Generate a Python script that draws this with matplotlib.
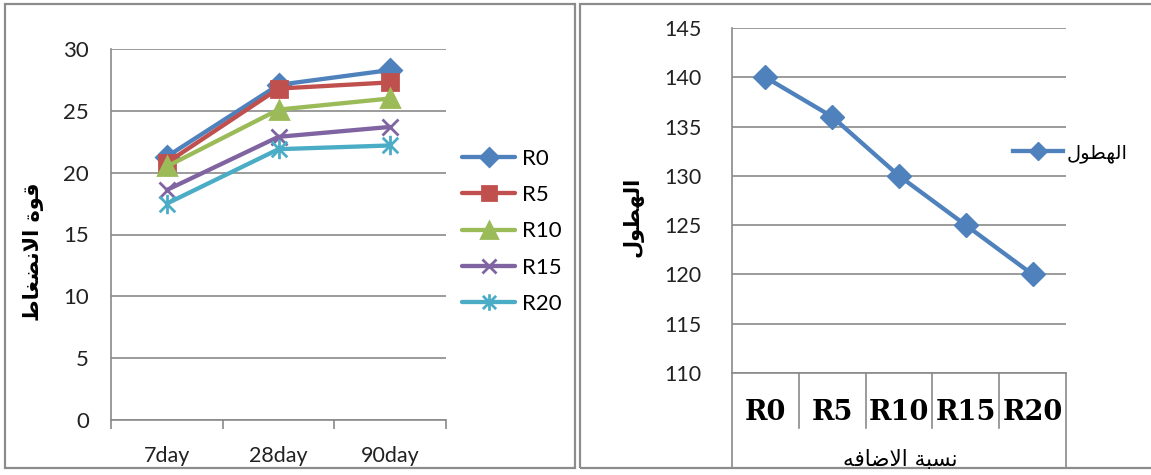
import matplotlib
matplotlib.use("Agg")
import matplotlib.pyplot as plt
from matplotlib.patches import Rectangle
from matplotlib.path import Path

# ---- data -------------------------------------------------------------
ages = ["7day", "28day", "90day"]
series_names = ["R0", "R5", "R10", "R15", "R20"]
r0 = [21.3, 27.1, 28.3]
r5 = [20.8, 26.8, 27.3]
r10 = [20.5, 25.1, 26.0]
r15 = [18.6, 22.9, 23.7]
r20 = [17.5, 21.9, 22.2]

mixes = ["R0", "R5", "R10", "R15", "R20"]
slump = [140, 136, 130, 125, 120]

strength_label = "قوة الانضغاط"
slump_label = "الهطول"
mix_label = "نسبة الاضافه"

# ---- simple Arabic shaping (presentation forms, visual order) --------
FORMS = {
    "ا": ("\uFE8D", "\uFE8E", None, None),
    "ب": ("\uFE8F", "\uFE90", "\uFE91", "\uFE92"),
    "ة": ("\uFE93", "\uFE94", None, None),
    "ل": ("\uFEDD", "\uFEDE", "\uFEDF", "\uFEE0"),
    "ن": ("\uFEE5", "\uFEE6", "\uFEE7", "\uFEE8"),
    "ه": ("\uFEE9", "\uFEEA", "\uFEEB", "\uFEEC"),
    "و": ("\uFEED", "\uFEEE", None, None),
    "ط": ("\uFEC1", "\uFEC2", "\uFEC3", "\uFEC4"),
    "ض": ("\uFEBD", "\uFEBE", "\uFEBF", "\uFEC0"),
    "غ": ("\uFECD", "\uFECE", "\uFECF", "\uFED0"),
    "ق": ("\uFED5", "\uFED6", "\uFED7", "\uFED8"),
    "س": ("\uFEB1", "\uFEB2", "\uFEB3", "\uFEB4"),
    "ف": ("\uFED1", "\uFED2", "\uFED3", "\uFED4"),
    "لا": ("\uFEFB", "\uFEFC", None, None),
}


def shape(text):
    toks = []
    i = 0
    while i < len(text):
        if text[i] == "ل" and i + 1 < len(text) and text[i + 1] == "ا":
            toks.append("لا")
            i += 2
        else:
            toks.append(text[i])
            i += 1
    out = []
    for k, t in enumerate(toks):
        if t not in FORMS:
            out.append(t)
            continue
        prev = toks[k - 1] if k > 0 else None
        nxt = toks[k + 1] if k + 1 < len(toks) else None
        jp = prev in FORMS and FORMS[prev][2] is not None
        jn = FORMS[t][2] is not None and nxt in FORMS
        idx = 3 if (jp and jn) else 1 if jp else 2 if jn else 0
        out.append(FORMS[t][idx])
    return "".join(reversed(out))


# ---- style ------------------------------------------------------------
W, H = 1151, 475
fig = plt.figure(figsize=(W / 100, H / 100), dpi=100)
fig.patch.set_facecolor("white")

NUM_FONT = "Lato"
GRID = "#8a8a8a"
colors = ["#4F81BD", "#C0504D", "#9BBB59", "#8064A2", "#4BACC6"]

star = Path([(0, -1), (0, 1), (-0.8, -0.8), (0.8, 0.8), (-0.8, 0.8), (0.8, -0.8)],
            [Path.MOVETO, Path.LINETO, Path.MOVETO, Path.LINETO, Path.MOVETO, Path.LINETO])
markers = ["D", "s", "^", "x", star]
msizes = [11, 12, 13, 12, 14]


def fx(px):
    return px / W


def fy(py):
    return 1 - py / H


# panel frames
for x0, x1 in [(5, 575), (580, 1160)]:
    fig.add_artist(Rectangle((fx(x0), fy(468)), fx(x1 - x0), (468 - 4) / H,
                             transform=fig.transFigure, fill=False,
                             edgecolor="#8c8c8c", linewidth=1.6))

# ---- left chart: compressive strength ---------------------------------
ax1 = fig.add_axes([fx(111), fy(420), fx(446 - 111), (420 - 49) / H])
xs = range(len(ages))
for name, vals, c, m, ms in zip(series_names, [r0, r5, r10, r15, r20], colors, markers, msizes):
    ax1.plot(xs, vals, color=c, lw=3.1, marker=m, ms=ms, mew=2.0,
             mfc=c, mec=c, label=name, solid_capstyle="round", zorder=3)

ax1.set_xlim(-0.5, len(ages) - 0.5)
ax1.set_ylim(0, 30)
ax1.set_yticks(range(0, 31, 5))
ax1.grid(axis="y", color=GRID, lw=1.2)
ax1.set_axisbelow(True)
for s in ["top", "right"]:
    ax1.spines[s].set_visible(False)
for s in ["left", "bottom"]:
    ax1.spines[s].set_color(GRID)
    ax1.spines[s].set_linewidth(1.2)
ax1.set_xticks(list(xs))
ax1.set_xticklabels(ages, fontsize=15.5, family=NUM_FONT, color="#222222")
ax1.set_xticks([i - 0.5 for i in range(len(ages) + 1)], minor=True)
ax1.tick_params(axis="x", which="major", length=0, pad=19)
ax1.tick_params(axis="x", which="minor", length=6.5, width=1.2, color=GRID)
ax1.tick_params(axis="y", length=0, pad=16, labelsize=16, labelcolor="#222222")
for lab in ax1.get_yticklabels():
    lab.set_family(NUM_FONT)
fig.text(fx(33), fy(252), shape(strength_label), rotation=90, ha="center", va="center",
         fontsize=15, fontweight="bold", family="DejaVu Sans")

fig.legend(*ax1.get_legend_handles_labels(), loc="upper left",
           bbox_to_anchor=(fx(442), fy(129)), frameon=False,
           prop={"family": NUM_FONT, "size": 16}, handlelength=2.4,
           handletextpad=0.3, labelspacing=0.73, markerscale=0.85)

# ---- right chart: slump -----------------------------------------------
ax2 = fig.add_axes([fx(732), fy(373), fx(1066 - 732), (373 - 28) / H])
xm = range(len(mixes))
ax2.plot(xm, slump, color=colors[0], lw=3.1, marker="D", ms=12, mfc=colors[0],
         mec=colors[0], label=shape(slump_label), zorder=3)
ax2.set_xlim(-0.5, len(mixes) - 0.5)
ax2.set_ylim(110, 145)
ax2.set_yticks(range(110, 146, 5))
ax2.grid(axis="y", color=GRID, lw=1.2)
ax2.set_axisbelow(True)
for s in ["top", "right"]:
    ax2.spines[s].set_visible(False)
for s in ["left", "bottom"]:
    ax2.spines[s].set_color(GRID)
    ax2.spines[s].set_linewidth(1.2)
ax2.set_xticks(list(xm))
ax2.set_xticklabels(mixes, fontsize=19.5, family="DejaVu Serif", fontweight="bold")
ax2.tick_params(axis="x", length=0, pad=19)
ax2.tick_params(axis="y", length=0, pad=22, labelsize=15.5, labelcolor="#222222")
for lab in ax2.get_yticklabels():
    lab.set_family(NUM_FONT)

# category dividers under the axis
h_ax = 373 - 28
for b in range(1, len(mixes)):
    ax2.plot([b - 0.5, b - 0.5], [0, -(428 - 373) / h_ax], color=GRID, lw=1.2,
             transform=ax2.get_xaxis_transform(), clip_on=False)
for b in [-0.5, len(mixes) - 0.5]:
    ax2.plot([b, b], [0, -(468 - 373) / h_ax], color=GRID, lw=1.2,
             transform=ax2.get_xaxis_transform(), clip_on=False)

fig.text(fx(900), fy(460), shape(mix_label), ha="center", va="center",
         fontsize=15.5, family="DejaVu Sans")
fig.text(fx(633), fy(217), shape(slump_label), rotation=90, ha="center", va="center",
         fontsize=15, fontweight="bold", family="DejaVu Sans")

fig.legend(*ax2.get_legend_handles_labels(), loc="center left",
           bbox_to_anchor=(fx(995), fy(153)), frameon=False,
           prop={"family": "DejaVu Sans", "size": 14}, handlelength=2.6,
           handletextpad=0.2, markerscale=0.8)

fig.savefig("out.png", dpi=100)
